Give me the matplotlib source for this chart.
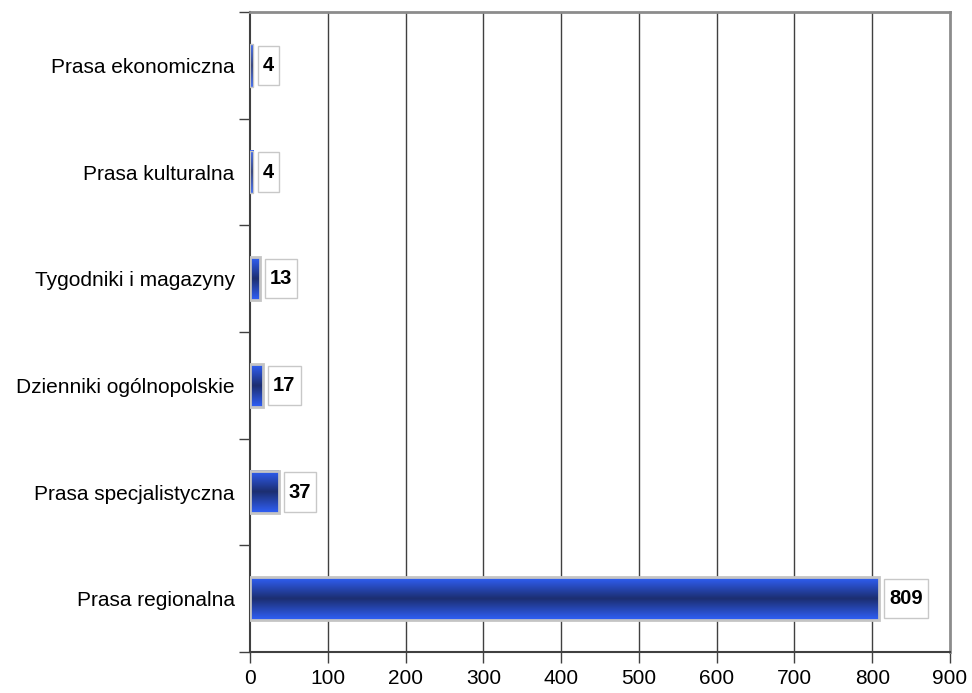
import numpy as np
import matplotlib
matplotlib.use("Agg")
import matplotlib.pyplot as plt
from matplotlib.patches import Rectangle
from matplotlib.colors import LinearSegmentedColormap

plt.rcParams['font.family'] = ['Liberation Sans', 'DejaVu Sans']

# dane (od dołu do góry)
kategorie = ["Prasa regionalna", "Prasa specjalistyczna", "Dzienniki ogólnopolskie",
             "Tygodniki i magazyny", "Prasa kulturalna", "Prasa ekonomiczna"]
wartosci = [809, 37, 17, 13, 4, 4]
xticks = [0, 100, 200, 300, 400, 500, 600, 700, 800, 900]

fig = plt.figure(figsize=(9.72, 6.93), dpi=100)
ax = fig.add_axes([250 / 972, 41 / 693, 700 / 972, 640 / 693])

cmap = LinearSegmentedColormap.from_list("bar", ["#3060f8", "#1c2e70", "#3060f8"])
grad = np.linspace(0, 1, 128).reshape(-1, 1)

h = 0.40
for i, v in enumerate(wartosci):
    ax.imshow(grad, cmap=cmap, aspect='auto', extent=(0, v, i - h / 2, i + h / 2),
              origin='lower', zorder=3, interpolation='bilinear')
    ax.add_patch(Rectangle((0, i - h / 2), v, h, fill=False, edgecolor="#c4c4c4",
                           linewidth=2.0 if v > 10 else 1.0, zorder=4))

ax.set_xlim(0, 900)
ax.set_ylim(-0.5, 5.5)

ax.set_xticks(xticks)
ax.set_xticklabels([str(t) for t in xticks], fontsize=15)
ax.set_yticks(range(len(kategorie)))
ax.set_yticklabels(kategorie, fontsize=15)
ax.tick_params(axis='y', which='major', length=0, pad=11)
ax.set_yticks(np.arange(-0.5, 6.0, 1.0), minor=True)
ax.tick_params(axis='y', which='minor', length=8, width=1, color="#404040", direction='out')
ax.tick_params(axis='x', length=8, width=1, color="#404040", direction='out', pad=4)

for x in xticks[1:-1]:
    ax.axvline(x, color="#404040", linewidth=1.0, zorder=1)

for s in ['left', 'bottom']:
    ax.spines[s].set_color("#404040")
    ax.spines[s].set_linewidth(1.5)
for s in ['top', 'right']:
    ax.spines[s].set_color("#8c8c8c")
    ax.spines[s].set_linewidth(2)

# etykiety wartości w ramkach
fig.canvas.draw()
r = fig.canvas.get_renderer()
px_per_unit = ax.transData.transform((1, 0))[0] - ax.transData.transform((0, 0))[0]
for i, v in enumerate(wartosci):
    x0 = v + 5 / px_per_unit
    t = ax.text(x0 + 5 / px_per_unit, i, str(v), fontsize=14.5, fontweight='bold',
                va='center', ha='left', zorder=6)
    bb = t.get_window_extent(renderer=r)
    w = (bb.width + 10) / px_per_unit
    ax.add_patch(Rectangle((x0, i - 0.185), w, 0.37, facecolor='white',
                           edgecolor="#c8c8c8", linewidth=1, zorder=5, clip_on=False))

fig.savefig("out.png", dpi=100)
